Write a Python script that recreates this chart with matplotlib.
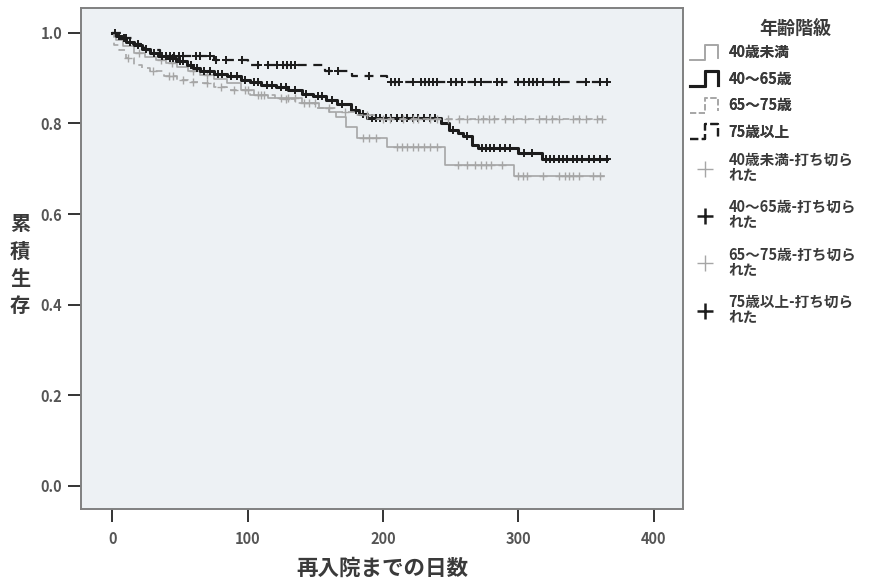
import numpy as np
import matplotlib
matplotlib.use("Agg")
import matplotlib.pyplot as plt
from matplotlib.lines import Line2D
from matplotlib.legend_handler import HandlerBase

plt.rcParams['font.family'] = ['Noto Sans CJK JP', 'DejaVu Sans']

# ---- data ----
groups = ["40歳未満", "40～65歳", "65～75歳", "75歳以上"]

t_u40 = [0, 3, 8, 16, 24, 32, 40, 48, 56, 65, 75, 85, 95, 105, 115, 140, 153, 160,
         165, 173, 181, 203, 246, 297]
s_u40 = [1.0, 0.985, 0.97, 0.956, 0.947, 0.94, 0.934, 0.925, 0.916, 0.907, 0.898,
         0.89, 0.875, 0.862, 0.856, 0.845, 0.834, 0.825, 0.815, 0.793, 0.768, 0.749,
         0.709, 0.683]
end_u40 = 363
cens_u40 = [20, 36, 44, 60, 70, 98, 100, 108, 112, 125, 130, 135, 145, 150, 185, 190,
            195, 210, 214, 218, 222, 226, 230, 235, 240, 255, 262, 268, 272, 276, 280,
            288, 300, 303, 306, 318, 330, 334, 337, 340, 345, 355, 360]

t_40_65 = [0, 3, 6, 10, 16, 22, 28, 34, 40, 47, 55, 60, 65, 75, 85, 95, 102, 110, 121,
           130, 140, 148, 158, 166, 176, 182, 188, 243, 249, 255, 259, 266, 270, 300, 317]
s_40_65 = [1.0, 0.994, 0.988, 0.981, 0.974, 0.965, 0.956, 0.95, 0.945, 0.937, 0.929,
           0.922, 0.915, 0.909, 0.904, 0.897, 0.892, 0.886, 0.881, 0.874, 0.866, 0.86,
           0.851, 0.842, 0.83, 0.822, 0.812, 0.80, 0.786, 0.78, 0.773, 0.753, 0.745,
           0.735, 0.722]
end_40_65 = 365
cens_40_65 = [2, 5, 9, 13, 19, 25, 31, 37, 43, 45, 50, 52, 58, 63, 68, 72, 78, 81, 88,
              92, 98, 105, 108, 114, 118, 125, 128, 135, 143, 152, 155, 162, 170, 180,
              185, 192, 195, 198, 202, 206, 210, 214, 218, 222, 226, 230, 235, 238, 252,
              262, 273, 276, 279, 282, 286, 290, 294, 304, 310, 320, 323, 326, 330, 333,
              336, 340, 343, 347, 352, 356, 360, 365]

t_65_75 = [0, 1, 5, 10, 16, 22, 28, 38, 48, 56, 65, 75, 85, 102, 120, 135, 150, 165,
           180, 195]
s_65_75 = [1.0, 0.974, 0.962, 0.945, 0.929, 0.922, 0.915, 0.905, 0.896, 0.892, 0.889,
           0.881, 0.874, 0.863, 0.855, 0.845, 0.835, 0.826, 0.818, 0.81]
end_65_75 = 362
cens_65_75 = [12, 30, 42, 45, 52, 60, 70, 80, 90, 110, 128, 142, 160, 172, 188, 200,
              205, 215, 222, 226, 235, 240, 248, 256, 262, 270, 274, 278, 282, 290, 296,
              305, 315, 320, 325, 330, 340, 345, 350, 358, 362]

t_75 = [0, 8, 15, 24, 35, 75, 100, 157, 177, 203]
s_75 = [1.0, 0.988, 0.975, 0.962, 0.948, 0.94, 0.929, 0.915, 0.905, 0.891]
end_75 = 366
cens_75 = [10, 19, 40, 43, 46, 49, 52, 62, 65, 72, 77, 84, 96, 108, 115, 122, 126, 129,
           132, 135, 160, 167, 190, 206, 209, 212, 222, 228, 231, 234, 237, 240, 250,
           254, 258, 268, 272, 284, 288, 300, 304, 308, 311, 314, 318, 326, 330, 350,
           360, 365]

LIGHT = "#a6a6a6"
DARK = "#1c1c1c"
TXT = "#3a3a3a"
styles = [
    dict(color=LIGHT, lw=1.2, ls="-"),
    dict(color=DARK, lw=2.2, ls="-"),
    dict(color=LIGHT, lw=1.2, ls=(0, (4, 3))),
    dict(color=DARK, lw=1.6, ls=(0, (4, 3))),
]
curves = [
    (t_u40, s_u40, end_u40, cens_u40),
    (t_40_65, s_40_65, end_40_65, cens_40_65),
    (t_65_75, s_65_75, end_65_75, cens_65_75),
    (t_75, s_75, end_75, cens_75),
]


class StepHandler(HandlerBase):
    """SPSS 風の段差凡例記号."""
    def create_artists(self, legend, orig, xdescent, ydescent, width, height,
                       fontsize, trans):
        x0, y0 = -xdescent, -ydescent
        xs = [x0, x0 + 0.5 * width, x0 + 0.5 * width, x0 + 0.92 * width, x0 + 0.92 * width]
        ys = [y0, y0, y0 + height, y0 + height, y0 + 0.1 * height]
        ln = Line2D(xs, ys, color=orig.get_color(), lw=orig.get_linewidth(),
                    linestyle=orig.get_linestyle(), transform=trans)
        return [ln]


fig = plt.figure(figsize=(8.74, 5.87), dpi=100)
ax = fig.add_axes([0.0927, 0.1329, 0.6888, 0.8535])
ax.set_facecolor("#edf1f4")

step_handles = []
cens_handles = []
for (t, s, end, cens), st in zip(curves, styles):
    tt = list(t) + [end]
    ss = list(s) + [s[-1]]
    h, = ax.step(tt, ss, where="post", color=st["color"], lw=st["lw"],
                 linestyle=st["ls"])
    step_handles.append(h)
    idx = np.searchsorted(t, cens, side="right") - 1
    cy = np.asarray(s)[idx]
    ax.plot(cens, cy, linestyle="None", marker="+", markersize=6,
            markeredgewidth=1.0 if st["color"] == LIGHT else 1.4, color=st["color"])
    cens_handles.append(Line2D([], [], linestyle="None", marker="+", markersize=11,
                               markeredgewidth=1.0 if st["color"] == LIGHT else 1.8,
                               color=st["color"]))

ax.set_xlim(-23, 421.5)
ax.set_ylim(-0.051, 1.055)
ax.set_xticks([0, 100, 200, 300, 400])
ax.set_yticks([0.0, 0.2, 0.4, 0.6, 0.8, 1.0])
ax.set_yticklabels(["0.0", "0.2", "0.4", "0.6", "0.8", "1.0"])
ax.tick_params(axis="both", direction="out", length=9.5, width=1.4, colors="#333",
               labelsize=10.5, labelcolor="#555")
ax.tick_params(axis="x", pad=6)
ax.tick_params(axis="y", pad=4)
for lab in ax.get_xticklabels() + ax.get_yticklabels():
    lab.set_fontweight("bold")
for sp in ax.spines.values():
    sp.set_color("#808080")
    sp.set_linewidth(1.4)

ax.set_xlabel("再入院までの日数", fontsize=15.5, fontweight="bold", color=TXT,
              labelpad=8)
fig.text(0.023, 0.549, "累\n積\n生\n存", fontsize=14.5, fontweight="bold", color=TXT,
         ha="center", va="center", linespacing=1.38)

# 凡例: 見出し + 段差記号 4 行 + 打ち切り記号 4 行
fig.text(0.91, 0.952, "年齢階級", fontsize=13, fontweight="bold", color=TXT,
         ha="center", va="center")
leg1 = fig.legend(step_handles, groups,
                  handler_map={h: StepHandler() for h in step_handles},
                  loc="upper left", bbox_to_anchor=(0.79, 0.925), frameon=False,
                  fontsize=10.5, handlelength=2.05, handleheight=1.2,
                  handletextpad=0.55, labelspacing=0.72, borderaxespad=0,
                  borderpad=0)
leg2 = fig.legend(cens_handles, [g + "-打ち切ら\nれた" for g in groups],
                  loc="upper left", bbox_to_anchor=(0.79, 0.742), frameon=False,
                  fontsize=10.5, handlelength=2.05, handletextpad=0.55,
                  labelspacing=1.1, borderaxespad=0, borderpad=0)
fig.add_artist(leg1)
for leg in (leg1, leg2):
    for txt in leg.get_texts():
        txt.set_color(TXT)
        txt.set_fontweight("bold")
for txt in leg2.get_texts():
    txt.set_linespacing(0.95)

fig.savefig("out.png", dpi=100)
